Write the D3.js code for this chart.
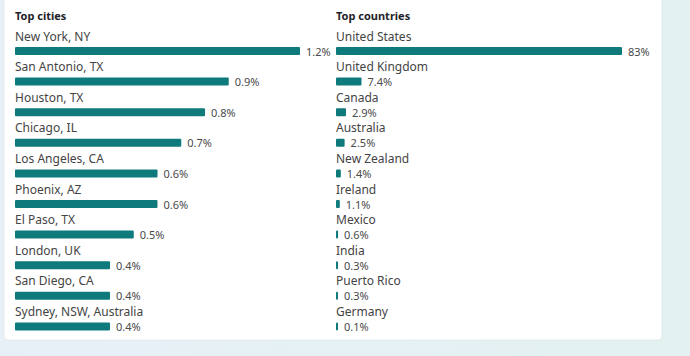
<!DOCTYPE html>
<html>
<head>
<meta charset="utf-8">
<script src="https://cdn.jsdelivr.net/npm/d3@7"></script>
<style>
  html, body { margin: 0; padding: 0; }
  body {
    width: 690px; height: 356px; overflow: hidden;
    background: linear-gradient(90deg, #e7f0f7 0%, #e5f1f4 60%, #e3f1f1 100%);
  }
  svg { display: block; }
  text { font-family: "Noto Sans", "Open Sans", sans-serif; }
</style>
</head>
<body>
<svg class="chart"></svg>
<script>
let barColor = '#0f7a7c'

let cities = ['New York, NY', 'San Antonio, TX', 'Houston, TX', 'Chicago, IL', 'Los Angeles, CA',
  'Phoenix, AZ', 'El Paso, TX', 'London, UK', 'San Diego, CA', 'Sydney, NSW, Australia']
let cityValues = [1.2, 0.9, 0.8, 0.7, 0.6, 0.6, 0.5, 0.4, 0.4, 0.4]

let countries = ['United States', 'United Kingdom', 'Canada', 'Australia', 'New Zealand',
  'Ireland', 'Mexico', 'India', 'Puerto Rico', 'Germany']
let countryValues = [83, 7.4, 2.9, 2.5, 1.4, 1.1, 0.6, 0.3, 0.3, 0.1]

let svg_width = 690
let svg_height = 356

let svg = d3.select('.chart')
  .attr('width', svg_width)
  .attr('height', svg_height)

// white card
svg.append('rect')
  .attr('x', 4)
  .attr('y', -10)
  .attr('width', 658)
  .attr('height', 350)
  .attr('rx', 4)
  .attr('fill', '#ffffff')
  .attr('stroke', '#dfe7ea')
  .attr('stroke-width', 0.8)

let rowY = d3.scaleBand()
  .domain(d3.range(10))
  .range([26, 332])

drawPanel(15, 'Top cities', cities, cityValues, 1.2, 285, d => d.toFixed(1) + '%')
drawPanel(336, 'Top countries', countries, countryValues, 83, 286, d => d + '%')

function drawPanel(x0, title, names, values, maxVal, maxWidth, fmt) {
  let g = svg.append('g')
    .attr('transform', translate(x0, 0))

  let scaleX = d3.scaleLinear()
    .domain([0, maxVal])
    .range([0, maxWidth])

  g.append('text')
    .text(title)
    .attr('x', 0)
    .attr('y', 20)
    .attr('font-size', 11)
    .attr('font-weight', 'bold')
    .attr('fill', '#1f2328')

  let rows = g.selectAll('.row')
    .data(values)
    .enter()
    .append('g')
    .attr('class', 'row')
    .attr('transform', (d, i) => translate(0, rowY(i)))

  rows.append('text')
    .text((d, i) => names[i])
    .attr('y', 14.5)
    .attr('font-size', 12)
    .attr('fill', '#444')

  rows.append('rect')
    .attr('y', 21)
    .attr('height', 8)
    .attr('width', d => Math.max(2, scaleX(d)))
    .attr('rx', 1)
    .attr('fill', barColor)

  rows.append('text')
    .text(d => fmt(d))
    .attr('x', d => Math.max(2, scaleX(d)) + 6)
    .attr('y', 29.5)
    .attr('font-size', 11)
    .attr('fill', '#4a4a4a')
}

function translate(x, y) {
  return 'translate(' + x + ',' + y + ')';
}
</script>
</body>
</html>
